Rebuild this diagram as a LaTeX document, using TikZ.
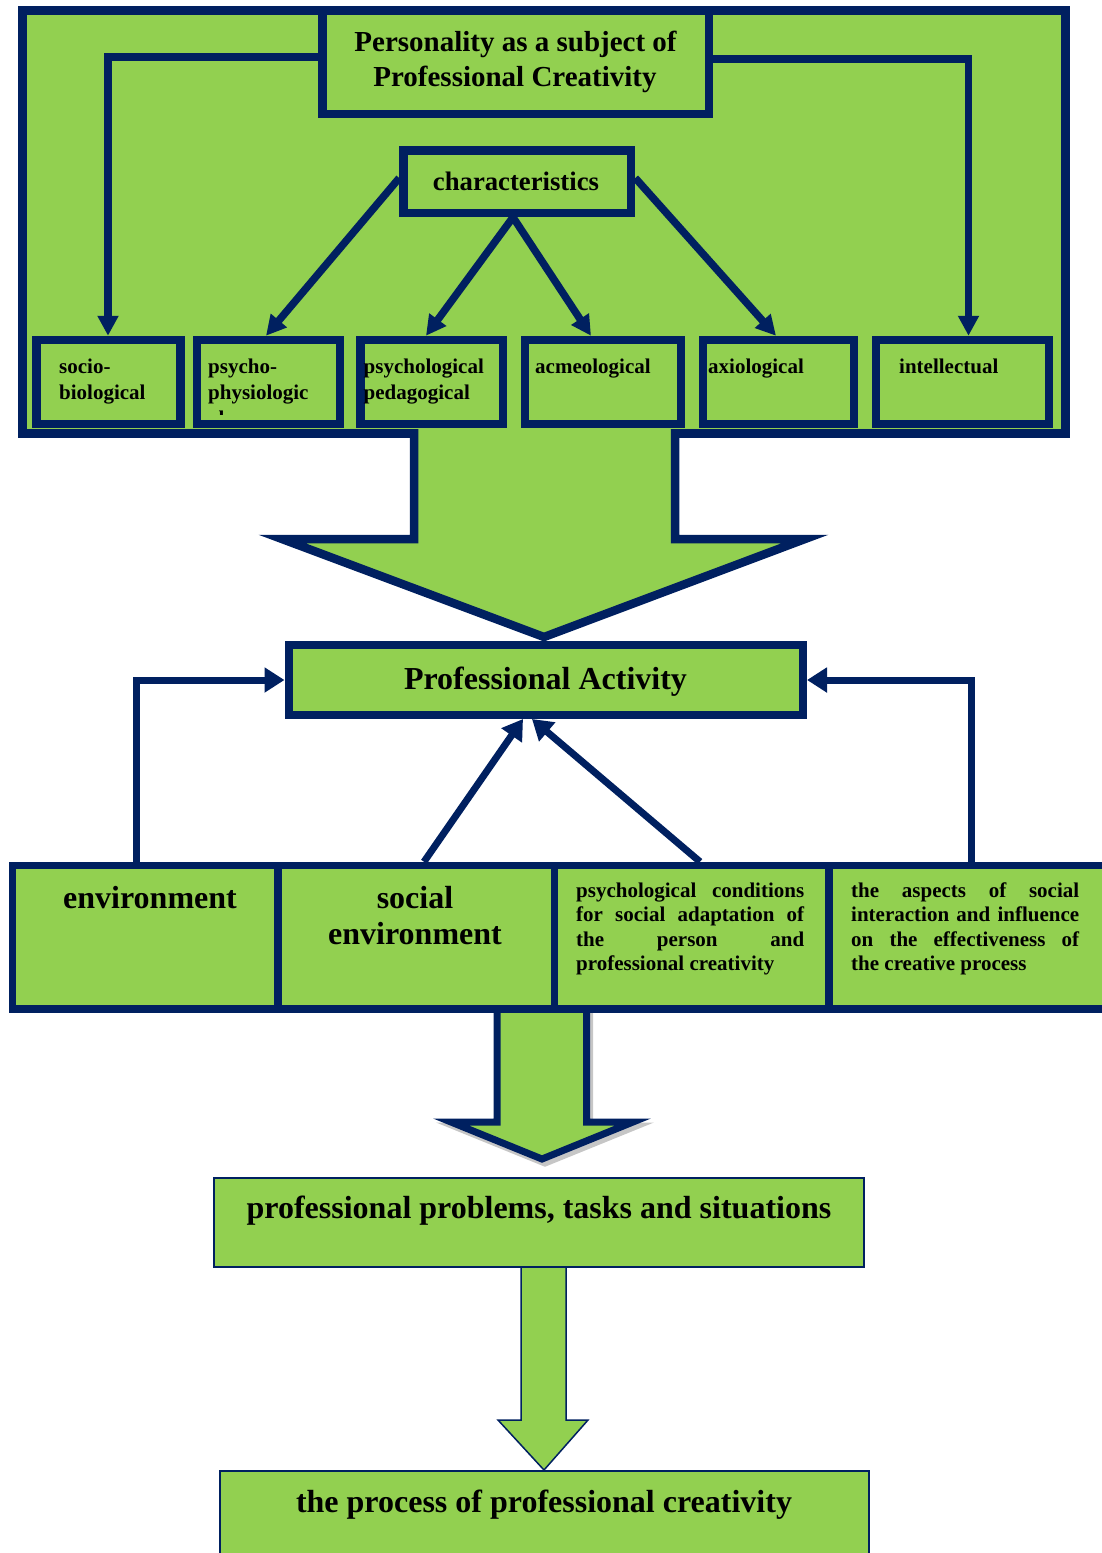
\documentclass[tikz,border=0pt]{standalone}
\usepackage{fontspec}
\setmainfont{Liberation Serif}
\usetikzlibrary{arrows.meta,fit}
\definecolor{lgreen}{HTML}{92D050}
\definecolor{navy}{HTML}{002060}
\newcommand\szTitle{\fontsize{29}{35}\selectfont\bfseries}
\newcommand\szChar{\fontsize{26.7}{32}\selectfont\bfseries}
\newcommand\szSmall{\fontsize{21}{25}\selectfont\bfseries}
\newcommand\szBig{\fontsize{32}{36}\selectfont\bfseries}
\newcommand\jline[1]{\makebox[228pt][s]{#1}}
\begin{document}
\begin{tikzpicture}[x=1pt,y=-1pt,line join=miter,
  gbox/.style={draw=navy, fill=lgreen, line width=8.5pt, inner sep=0pt},
  txt/.style={inner sep=0pt, text=black},
  conn/.style={draw=navy, line width=7.5pt, -{Triangle[length=20pt,width=20pt]}},
  conn2/.style={draw=navy, line width=7pt, -{Triangle[length=20pt,width=24pt]}},
  bigarrow/.style={draw=navy, line width=8.5pt},
  midarrow/.style={fill=lgreen, draw=navy, line width=7pt},
  shadowarrow/.style={fill=gray!45, draw=gray!45, line width=7pt},
  thinarrow/.style={fill=lgreen, draw=navy, line width=1.5pt}]
\useasboundingbox (0,0) rectangle (1101,1553);

% outer frame and top boxes
\node[gbox, line width=9pt, fit={(22,10.5) (1065,433.5)}] (frame) {};
\node[gbox, fit={(322.5,10.5) (709,114)}] (title) {};
\node[txt, anchor=base] (title1) at (515.5,51) {\szTitle Personality as a subject of};
\node[txt, anchor=base] (title2) at (515,86) {\szTitle Professional Creativity};
\node[gbox, fit={(403.5,150.5) (631,213)}] (chars) {};
\node[txt, anchor=base] (charst) at (516,190) {\szChar characteristics};

% row 1
\node[gbox, fit={(36.5,340) (180.5,424)}] (socio) {};
\node[gbox, fit={(197,340) (340,424)}] (psycho) {};
\node[gbox, fit={(360.5,340) (503,424)}] (psped) {};
\node[gbox, fit={(525,340) (681,424)}] (acme) {};
\node[gbox, fit={(703,340) (854,424)}] (axio) {};
\node[gbox, fit={(876,340) (1049,424)}] (intel) {};

\node[txt, anchor=base west] (socio1) at (59,373) {\szSmall socio-};
\node[txt, anchor=base west] (socio2) at (59,399) {\szSmall biological};
\node[txt, anchor=base west] (psycho1) at (208,373) {\szSmall psycho-};
\node[txt, anchor=base west] (psycho2) at (208,399) {\szSmall physiologic};
\begin{scope}
  \clip (200,400) rectangle (337,414);
  \node[txt, anchor=base west] (psycho3) at (208,425) {\szSmall al};
\end{scope}
\node[txt, anchor=base west] (psped1) at (363.5,373) {\szSmall psychological};
\node[txt, anchor=base west] (psped2) at (363.5,399) {\szSmall pedagogical};
\node[txt, anchor=base west] (acmet) at (535,373) {\szSmall acmeological};
\node[txt, anchor=base west] (axiot) at (708,373) {\szSmall axiological};
\node[txt, anchor=base west] (intelt) at (899,373) {\szSmall intellectual};

% connectors top
\draw[conn] (title.west |- 0,57) -| (108,0 |- socio.north);
\draw[conn] (title.east |- 0,59) -| (968.5,0 |- intel.north);
\draw[conn] (chars.west |- 0,178) -- (266,0 |- psycho.north);
\draw[conn] (513,0 |- chars.south) -- (426,0 |- psped.north);
\draw[conn] (513,0 |- chars.south) -- (591,0 |- acme.north);
\draw[conn] (chars.east |- 0,178) -- (776,0 |- axio.north);

% big arrow 1
\fill[lgreen] (414,429) -- (414,539) -- (282,539) -- (544,637) -- (805,539) -- (675,539) -- (675,429) -- cycle;
\draw[bigarrow] (414,429) -- (414,539) -- (282,539) -- (544,637) -- (805,539) -- (675,539) -- (675,429);

% professional activity
\node[gbox, line width=8pt, fit={(288.5,645) (803,715)}] (pa) {};
\node[txt, anchor=base] (pat) at (545.5,689) {\szBig Professional Activity};

% arrow 2 with shadow
\begin{scope}[shift={(3,4)}]
\draw[shadowarrow] (497,1009) -- (497,1122) -- (451,1122) -- (542,1159) -- (633,1122) -- (586.5,1122) -- (586.5,1009) -- cycle;
\end{scope}
\draw[midarrow] (497,1009) -- (497,1122) -- (451,1122) -- (542,1159) -- (633,1122) -- (586.5,1122) -- (586.5,1009) -- cycle;

% row 2
\node[gbox, line width=7.5pt, fit={(12.5,865.5) (278,1009)}] (env) {};
\node[gbox, line width=7.5pt, fit={(278,865.5) (554.5,1009)}] (soc) {};
\node[gbox, line width=7.5pt, fit={(554.5,865.5) (829,1009)}] (psyc) {};
\node[gbox, line width=7.5pt, fit={(829,865.5) (1115,1009)}] (asp) {};

\node[txt, anchor=base] (envt) at (150,908) {\szBig environment};
\node[txt, anchor=base] (soct1) at (415,908) {\szBig social};
\node[txt, anchor=base] (soct2) at (415,944) {\szBig environment};
\node[txt, anchor=base west] (psyc1) at (576,897) {\szSmall\jline{psychological conditions}};
\node[txt, anchor=base west] (psyc2) at (576,921.5) {\szSmall\jline{for social adaptation of}};
\node[txt, anchor=base west] (psyc3) at (576,946) {\szSmall\jline{the person and}};
\node[txt, anchor=base west] (psyc4) at (576,970.5) {\szSmall professional creativity};
\node[txt, anchor=base west] (asp1) at (851,897) {\szSmall\jline{the aspects of social}};
\node[txt, anchor=base west] (asp2) at (851,921.5) {\szSmall\jline{interaction and influence}};
\node[txt, anchor=base west] (asp3) at (851,946) {\szSmall\jline{on the effectiveness of}};
\node[txt, anchor=base west] (asp4) at (851,970.5) {\szSmall the creative process};

% connectors row 2
\draw[conn2] (136.5,0 |- env.north) |- (pa.west);
\draw[conn2] (971,0 |- asp.north) |- (pa.east);
\draw[conn2] (424,0 |- soc.north) -- (523,0 |- pa.south);
\draw[conn2] (700,0 |- psyc.north) -- (532,0 |- pa.south);

% bottom boxes
\node[gbox, line width=2pt, fit={(214,1178) (864,1267)}] (prob) {};
\node[txt, anchor=base] (probt) at (539,1218) {\szBig professional problems, tasks and situations};
\node[gbox, line width=2pt, fit={(220,1471) (869,1580)}] (proc) {};
\node[txt, anchor=base] (proct) at (544,1512) {\szBig the process of professional creativity};
\draw[thinarrow] (521,1267) -- (521,1420) -- (498,1420) -- (544,1470) -- (588,1420) -- (566,1420) -- (566,1267) -- cycle;
\end{tikzpicture}
\end{document}
